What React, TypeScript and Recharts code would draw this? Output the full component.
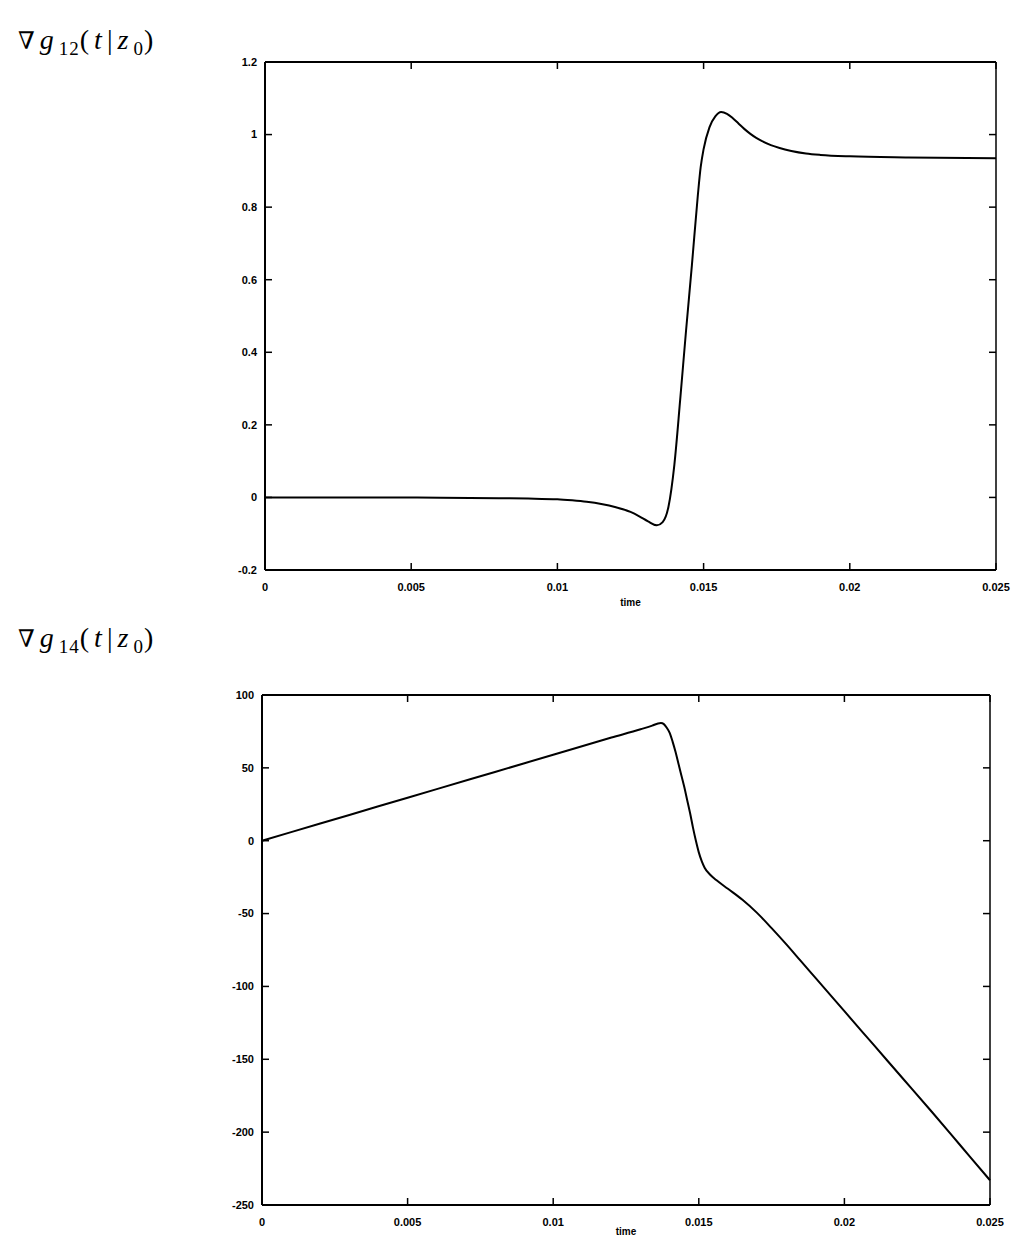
import { LineChart, Line, XAxis, YAxis } from "recharts";

// time axis shared by both panels
const TIME_TICKS = [0, 0.005, 0.01, 0.015, 0.02, 0.025];
const TIME_LABELS = ["0", "0.005", "0.01", "0.015", "0.02", "0.025"];

// ∇g12(t|z0)
const G12_T = [
  0, 0.002, 0.004, 0.006, 0.008, 0.009, 0.01, 0.0105, 0.011, 0.0115, 0.012,
  0.0125, 0.0128, 0.0131, 0.0134, 0.0136, 0.0138, 0.014, 0.0142, 0.0144,
  0.0146, 0.0148, 0.0149, 0.015, 0.0152, 0.0154, 0.0156, 0.0158, 0.016,
  0.0162, 0.0164, 0.0166, 0.0168, 0.017, 0.0173, 0.0176, 0.018, 0.0185,
  0.019, 0.02, 0.022, 0.025,
];
const G12_V = [
  0, 0, 0, -0.001, -0.002, -0.003, -0.005, -0.008, -0.012, -0.018, -0.027,
  -0.04, -0.052, -0.066, -0.077, -0.068, -0.025, 0.09, 0.27, 0.46, 0.64, 0.83,
  0.91, 0.96, 1.02, 1.05, 1.062, 1.057, 1.045, 1.03, 1.015, 1.002, 0.991,
  0.982, 0.971, 0.963, 0.955, 0.948, 0.944, 0.94, 0.937, 0.935,
];
const G12_TICKS = [-0.2, 0, 0.2, 0.4, 0.6, 0.8, 1, 1.2];
const G12_LABELS = ["-0.2", "0", "0.2", "0.4", "0.6", "0.8", "1", "1.2"];

// ∇g14(t|z0)
const G14_T = [
  0, 0.002, 0.004, 0.006, 0.008, 0.01, 0.012, 0.013, 0.0134, 0.0136, 0.0137,
  0.0138, 0.0139, 0.014, 0.0141, 0.0142, 0.0143, 0.0144, 0.0145, 0.0146,
  0.0147, 0.0148, 0.0149, 0.015, 0.0151, 0.0152, 0.0154, 0.0156, 0.016,
  0.0165, 0.017, 0.0175, 0.018, 0.0185, 0.019, 0.02, 0.021, 0.022, 0.023,
  0.024, 0.025,
];
const G14_V = [
  0, 11.8, 23.6, 35.4, 47.2, 59, 70.8, 76.5, 79, 80.5, 80.8, 80, 77.5, 74, 68,
  61, 53, 45, 37, 28, 19, 9, 0, -8, -14, -18.5, -23.5, -27, -33, -40.5, -49.5,
  -60, -71, -82.5, -94, -117, -140, -163, -186, -209.5, -233,
];
const G14_TICKS = [-250, -200, -150, -100, -50, 0, 50, 100];
const G14_LABELS = ["-250", "-200", "-150", "-100", "-50", "0", "50", "100"];

const g12Data = G12_T.map((t, i) => ({ t, v: G12_V[i] }));
const g14Data = G14_T.map((t, i) => ({ t, v: G14_V[i] }));

const FONT = "'Liberation Sans', Arial, sans-serif";
const TICK_LEN = 7;

const tickText = {
  fontFamily: FONT,
  fontSize: 11,
  fontWeight: 700,
  fill: "#000",
};

function bottomTick(labels: string[], ticks: number[]) {
  return (p: any) => {
    const i = ticks.indexOf(p.payload.value);
    return (
      <g>
        <line x1={p.x} y1={p.y} x2={p.x} y2={p.y - TICK_LEN} stroke="#000" strokeWidth={1.5} />
        <text x={p.x} y={p.y + 17} dy="0.35em" textAnchor="middle" style={tickText}>
          {labels[i]}
        </text>
      </g>
    );
  };
}

function leftTick(labels: string[], ticks: number[]) {
  return (p: any) => {
    const i = ticks.indexOf(p.payload.value);
    return (
      <g>
        <line x1={p.x} y1={p.y} x2={p.x + TICK_LEN} y2={p.y} stroke="#000" strokeWidth={1.5} />
        <text x={p.x - 8} y={p.y} dy="0.35em" textAnchor="end" style={tickText}>
          {labels[i]}
        </text>
      </g>
    );
  };
}

const TopTick = (p: any) => (
  <line x1={p.x} y1={p.y} x2={p.x} y2={p.y + TICK_LEN} stroke="#000" strokeWidth={1.5} />
);
const RightTick = (p: any) => (
  <line x1={p.x} y1={p.y} x2={p.x - TICK_LEN} y2={p.y} stroke="#000" strokeWidth={1.5} />
);

const axisLine = { stroke: "#000", strokeWidth: 2 };

interface PanelProps {
  data: { t: number; v: number }[];
  height: number;
  margin: { top: number; right: number; bottom: number; left: number };
  yTicks: number[];
  yLabels: string[];
  timeOffset: number;
}

function Panel({ data, height, margin, yTicks, yLabels, timeOffset }: PanelProps) {
  const yDomain = [yTicks[0], yTicks[yTicks.length - 1]];
  return (
    <LineChart width={1018} height={height} data={data} margin={margin}>
      <XAxis
        dataKey="t"
        type="number"
        domain={[0, 0.025]}
        ticks={TIME_TICKS}
        interval={0}
        height={40}
        tickSize={0}
        tickMargin={0}
        tickLine={false}
        axisLine={axisLine}
        tick={bottomTick(TIME_LABELS, TIME_TICKS)}
        label={{
          value: "time",
          position: "insideBottom",
          offset: timeOffset,
          style: { fontFamily: FONT, fontSize: 10, fontWeight: 700, fill: "#000" },
        }}
      />
      <XAxis
        xAxisId="top"
        orientation="top"
        dataKey="t"
        type="number"
        domain={[0, 0.025]}
        ticks={TIME_TICKS}
        interval={0}
        height={1}
        tickSize={0}
        tickMargin={0}
        tickLine={false}
        axisLine={axisLine}
        tick={TopTick}
      />
      <YAxis
        type="number"
        domain={yDomain}
        ticks={yTicks}
        interval={0}
        width={40}
        tickSize={0}
        tickMargin={0}
        tickLine={false}
        axisLine={axisLine}
        allowDataOverflow
        tick={leftTick(yLabels, yTicks)}
      />
      <YAxis
        yAxisId="right"
        orientation="right"
        type="number"
        domain={yDomain}
        ticks={yTicks}
        interval={0}
        width={1}
        tickSize={0}
        tickMargin={0}
        tickLine={false}
        axisLine={{ stroke: "#000", strokeWidth: 1.5 }}
        allowDataOverflow
        tick={RightTick}
      />
      <Line
        dataKey="v"
        type="monotone"
        stroke="#000"
        strokeWidth={2}
        dot={false}
        isAnimationActive={false}
      />
    </LineChart>
  );
}

const titleStyle = {
  position: "absolute" as const,
  left: 18,
  fontFamily: "'Liberation Serif', 'DejaVu Serif', serif",
  fontSize: 28,
  letterSpacing: 5,
  color: "#000",
  lineHeight: 1,
};
const subStyle = { fontSize: 19, verticalAlign: "-6px", letterSpacing: 1 };

function Title({ top, sub }: { top: number; sub: string }) {
  return (
    <div style={{ ...titleStyle, top }}>
      <span style={{ fontFamily: "'DejaVu Serif', serif", fontSize: 24 }}>∇</span>
      <i>g</i>
      <span style={subStyle}>{sub}</span>(<i>t</i>|<i>z</i>
      <span style={subStyle}>0</span>)
    </div>
  );
}

export default function App() {
  return (
    <div
      style={{
        position: "absolute",
        left: 0,
        top: 0,
        width: 1018,
        height: 1245,
        background: "#fff",
      }}
    >
      <Title top={26} sub="12" />
      <Title top={624} sub="14" />
      <div style={{ position: "absolute", left: 0, top: 0 }}>
        <Panel
          data={g12Data}
          height={620}
          margin={{ top: 61, right: 21, bottom: 10, left: 225 }}
          yTicks={G12_TICKS}
          yLabels={G12_LABELS}
          timeOffset={4}
        />
      </div>
      <div style={{ position: "absolute", left: 0, top: 640 }}>
        <Panel
          data={g14Data}
          height={605}
          margin={{ top: 54, right: 27, bottom: 0, left: 222 }}
          yTicks={G14_TICKS}
          yLabels={G14_LABELS}
          timeOffset={10}
        />
      </div>
    </div>
  );
}
